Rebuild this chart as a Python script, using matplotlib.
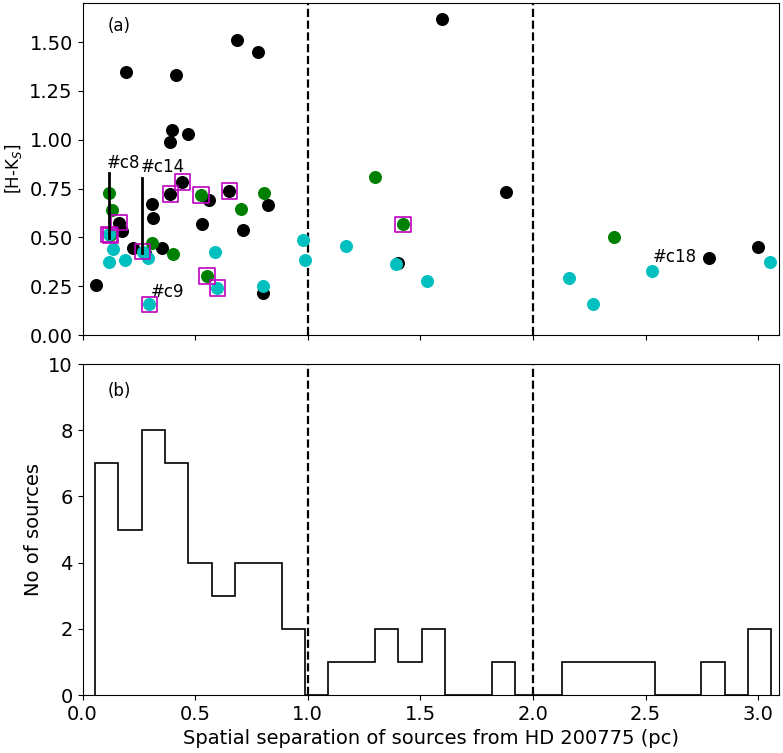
import numpy as np
import matplotlib
matplotlib.use('Agg')
import matplotlib.pyplot as plt

# couleurs [H-Ks] vs distance a HD 200775
black_x = [0.060, 0.193, 0.415, 0.687, 0.781, 0.399, 0.470, 0.390, 0.443, 0.390,
           0.563, 0.652, 0.825, 0.310, 0.314, 0.163, 0.174, 0.532, 0.713, 0.226,
           0.352, 0.278, 0.801, 1.598, 1.882, 1.402, 2.783, 3.001]
black_y = [0.255, 1.347, 1.331, 1.510, 1.449, 1.049, 1.029, 0.988, 0.784, 0.723,
           0.690, 0.738, 0.666, 0.671, 0.598, 0.576, 0.535, 0.569, 0.538, 0.444,
           0.447, 0.420, 0.214, 1.618, 0.731, 0.367, 0.393, 0.451]

green_x = [0.118, 0.130, 0.310, 0.403, 0.525, 0.705, 0.807, 0.553, 1.300, 1.424, 2.360, 0.120]
green_y = [0.729, 0.641, 0.470, 0.415, 0.716, 0.644, 0.726, 0.302, 0.810, 0.567, 0.501, 0.510]

cyan_x = [0.118, 0.137, 0.119, 0.190, 0.267, 0.292, 0.588, 0.297, 0.599, 0.801,
          0.978, 0.988, 1.171, 1.391, 1.530, 2.162, 2.268, 2.529, 3.054]
cyan_y = [0.516, 0.441, 0.373, 0.384, 0.427, 0.396, 0.424, 0.157, 0.242, 0.251,
          0.487, 0.384, 0.456, 0.362, 0.277, 0.292, 0.159, 0.328, 0.373]

# sources entourees
sq_x = [0.118, 0.124, 0.163, 0.267, 0.297, 0.390, 0.443, 0.525, 0.553, 0.599, 0.652, 1.424]
sq_y = [0.516, 0.510, 0.576, 0.427, 0.157, 0.723, 0.784, 0.716, 0.302, 0.242, 0.738, 0.567]

# histogramme (29 classes)
hist_counts = [7, 5, 8, 7, 4, 3, 4, 4, 2, 0, 1, 1, 2, 1, 2, 0, 0, 1, 0, 0,
               1, 1, 1, 1, 0, 0, 1, 0, 2]
hist_lo, hist_hi = 0.056, 3.059

fig = plt.figure(figsize=(7.83, 7.53), dpi=100)
ax1 = fig.add_axes([0.1054, 0.555, 0.8896, 0.441])
ax2 = fig.add_axes([0.1054, 0.077, 0.8896, 0.4396])

ax1.scatter(black_x, black_y, s=70, c='k', zorder=2)
ax1.scatter(green_x, green_y, s=70, c='g', zorder=3)
ax1.scatter(cyan_x, cyan_y, s=70, c='c', zorder=4)
ax1.scatter(sq_x, sq_y, s=125, marker='s', facecolors='none', edgecolors='m', linewidths=1.2, zorder=5)

# etiquettes
ax1.plot([0.118, 0.118], [0.497, 0.83], color='k', lw=2, zorder=6)
ax1.plot([0.263, 0.263], [0.42, 0.805], color='k', lw=2, zorder=6)
ax1.text(0.107, 0.88, '#c8', fontsize=12, va='center')
ax1.text(0.26, 0.861, '#c14', fontsize=12, va='center')
ax1.text(0.304, 0.22, '#c9', fontsize=12, va='center')
ax1.text(2.533, 0.40, '#c18', fontsize=12, va='center')
ax1.text(0.036, 0.93, '(a)', fontsize=12, va='center', transform=ax1.transAxes)

for ax in (ax1, ax2):
    ax.axvline(1.0, color='k', ls='--', lw=1.6)
    ax.axvline(2.0, color='k', ls='--', lw=1.6)
    ax.set_xlim(0, 3.093)
    ax.set_xticks([0.0, 0.5, 1.0, 1.5, 2.0, 2.5, 3.0])
    ax.tick_params(labelsize=14)

ax1.set_ylim(0, 1.7)
ax1.set_yticks([0, 0.25, 0.5, 0.75, 1.0, 1.25, 1.5])
ax1.set_yticklabels(['0.00', '0.25', '0.50', '0.75', '1.00', '1.25', '1.50'])
ax1.set_xticklabels([])
ax1.set_ylabel('[H-K$_S$]', fontsize=12)

edges = np.linspace(hist_lo, hist_hi, len(hist_counts) + 1)
ax2.stairs(hist_counts, edges, color='k', lw=1.2)
ax2.set_ylim(0, 10)
ax2.set_yticks([0, 2, 4, 6, 8, 10])
ax2.set_xticklabels(['0.0', '0.5', '1.0', '1.5', '2.0', '2.5', '3.0'])
ax2.text(0.036, 0.918, '(b)', fontsize=12, va='center', transform=ax2.transAxes)
ax2.set_xlabel('Spatial separation of sources from HD 200775 (pc)', fontsize=14)
ax2.set_ylabel('No of sources', fontsize=14)

fig.savefig('out.png', dpi=100)
